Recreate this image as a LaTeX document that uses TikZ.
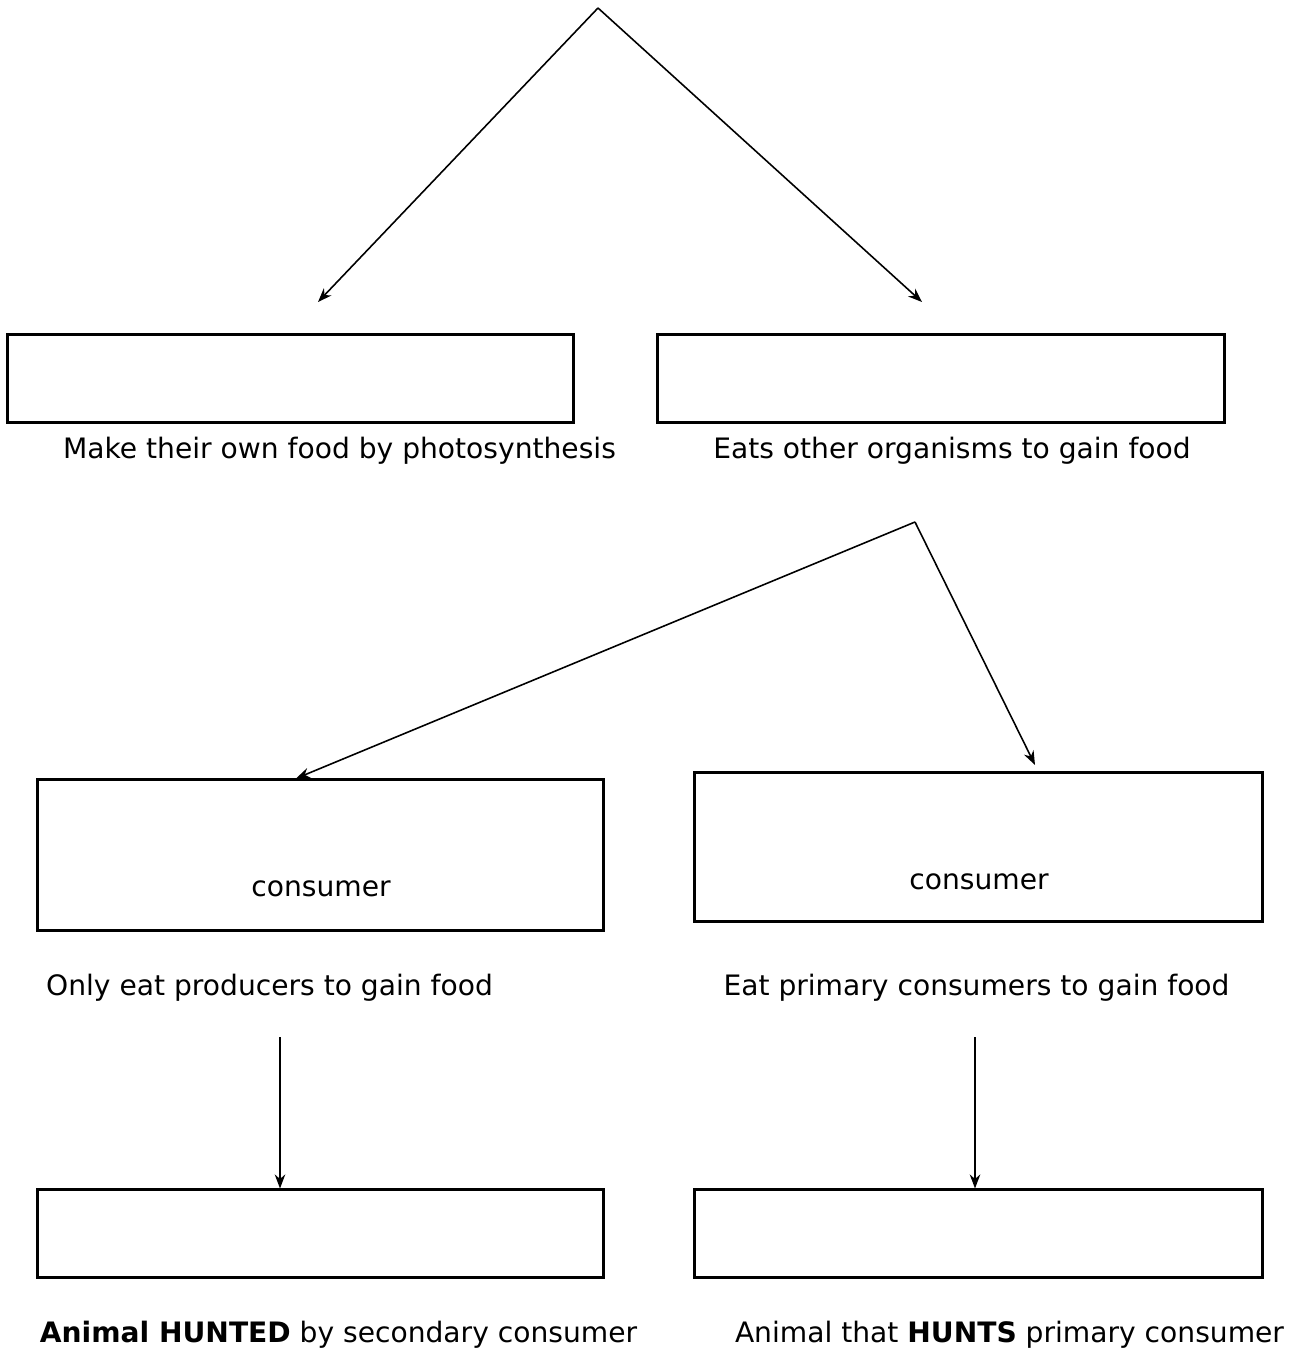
\documentclass[tikz,border=0pt]{standalone}
\usepackage{fontspec}
\setmainfont{DejaVu Sans}
\usetikzlibrary{positioning,arrows.meta}

\begin{document}
\begin{tikzpicture}[
    x=0.01cm, y=-0.01cm,
    box/.style={draw, line width=0.85pt, inner sep=0pt},
    lbl/.style={inner sep=0pt, font=\fontsize{8}{10}\selectfont},
    arr/.style={line width=0.45pt, -{Stealth[length=4pt, width=3pt]}},
]
\useasboundingbox (0,0) rectangle (1309,1358);

% Top level boxes
\node[box, minimum width=5.65cm, minimum height=0.87cm] (producer) at (290.5,378.5) {};
\node[box, minimum width=5.66cm, minimum height=0.87cm] (consumer) at (941,378.5) {};

\node[lbl] (producertxt) at (339.5,451) {Make their own food by photosynthesis};
\node[lbl] (consumertxt) at (952,451) {Eats other organisms to gain food};

% Middle boxes
\node[box, minimum width=5.65cm, minimum height=1.50cm] (primary) at (320.5,855) {};
\node[box, minimum width=5.67cm, minimum height=1.48cm] (secondary) at (978.5,847) {};

\node[lbl] (primaryin) at (321,889) {consumer};
\node[lbl] (secondaryin) at (979,882) {consumer};

\node[lbl] (primarytxt) at (269.5,988) {Only eat producers to gain food};
\node[lbl] (secondarytxt) at (976.5,988) {Eat primary consumers to gain food};

% Bottom boxes
\node[box, minimum width=5.65cm, minimum height=0.87cm] (prey) at (320.5,1233.5) {};
\node[box, minimum width=5.67cm, minimum height=0.87cm] (predator) at (978.5,1233.5) {};

\node[lbl] (preytxt) at (338.5,1335) {\textbf{Animal HUNTED} by secondary consumer};
\node[lbl] (predatortxt) at (1009.5,1335) {Animal that \textbf{HUNTS} primary consumer};

% Arrows from the top
\coordinate (organisms) at (598,8);
\coordinate (tipproducer) at (318,302);
\coordinate (tipconsumer) at (922,302);
\draw[arr] (organisms) -- (tipproducer);
\draw[arr] (organisms) -- (tipconsumer);

% Arrows from the consumers
\coordinate (eaters) at (915,522);
\draw[arr] (eaters) -- (primary.north -| 296,0);
\coordinate (tipsecondary) at (1035,765);
\draw[arr] (eaters) -- (tipsecondary);

% Arrows down to the bottom boxes
\coordinate (startprey) at (280,1037);
\coordinate (startpredator) at (975,1037);
\draw[arr] (startprey) -- (startprey |- prey.north);
\draw[arr] (startpredator) -- (startpredator |- predator.north);

\end{tikzpicture}
\end{document}
